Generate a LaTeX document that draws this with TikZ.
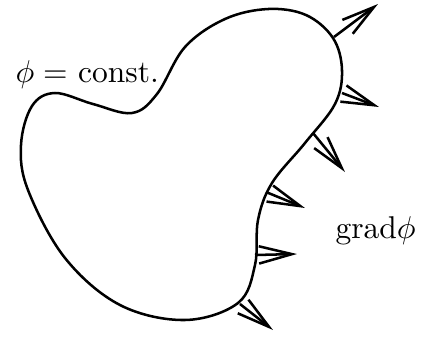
\documentclass[tikz,border=0pt]{standalone}
\usetikzlibrary{arrows.meta}
\begin{document}
\begin{tikzpicture}[x=0.3175pt,y=-0.3175pt,
  curve/.style={line width=0.8pt},
  grad/.style={line width=0.8pt,-{Straight Barb[length=10.5pt,width=5.5pt,line width=0.8pt]}},
  lbl/.style={anchor=base west,inner sep=0pt}]
\useasboundingbox (0,0) rectangle (422,338);
\draw[curve] plot[smooth cycle,tension=0.6] coordinates {
 (268,9) (306,15) (333,38) (342,70) (335,104) (305,143) (272,183) (258,220)
 (255,265) (238,303) (185,320) (120,305) (65,258) (28,190) (21,145)
 (32,106) (55,93) (93,104) (132,113) (157,94) (185,47) (225,19)};
\coordinate (s1) at (334,37);  \coordinate (e1) at (378,4);
\coordinate (s2) at (342,93);  \coordinate (e2) at (379,107);
\coordinate (s3) at (313,133); \coordinate (e3) at (345,172);
\coordinate (s4) at (266,192); \coordinate (e4) at (305,208);
\coordinate (s5) at (255,255); \coordinate (e5) at (297,254);
\coordinate (s6) at (240,304); \coordinate (e6) at (273,330);
\foreach \i in {1,...,6} \draw[grad] (s\i) -- (e\i);
\node[lbl] (phi) at (15,82) {$\phi=$ const.};
\node[lbl] (gradphi) at (335,238) {grad$\phi$};
\end{tikzpicture}
\end{document}
